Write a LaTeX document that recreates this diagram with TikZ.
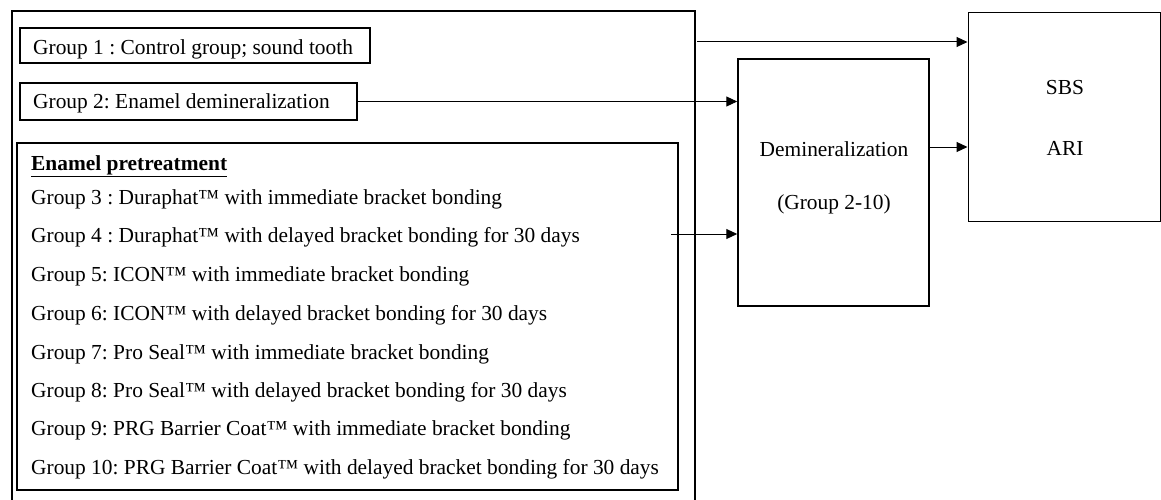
\documentclass[tikz,border=0pt]{standalone}
\usepackage{fontspec}
\setmainfont{Liberation Serif}
\usetikzlibrary{arrows.meta}
\frenchspacing
\begin{document}
\begin{tikzpicture}[x=1pt,y=-1pt,
  box/.style={draw,line width=1.5pt,inner sep=0pt},
  arr/.style={line width=1pt,-{Triangle[length=11pt,width=10pt]}},
  txt/.style={anchor=base west,inner sep=0pt,font=\fontsize{21.4}{26}\selectfont},
  ctxt/.style={anchor=base,inner sep=0pt,font=\fontsize{21.4}{26}\selectfont}]
\fill[white] (0,0) rectangle (1161,500);
\useasboundingbox (0,0) rectangle (1161,500);
% outer frame (open at the bottom)
\coordinate (obl) at (12,500);
\coordinate (otl) at (12,11);
\coordinate (otr) at (695,11);
\coordinate (obr) at (695,500);
\draw[line width=1.5pt] (obl) -- (otl) -- (otr) -- (obr);
% boxes
\node[box,minimum width=350pt,minimum height=35pt] (g1) at (195,45.5) {};
\node[box,minimum width=337pt,minimum height=37pt] (g2) at (188.5,101.5) {};
\node[box,minimum width=661pt,minimum height=347pt] (pre) at (347.5,316.5) {};
\node[box,minimum width=191pt,minimum height=247pt] (demin) at (833.5,182.5) {};
\node[box,line width=1pt,minimum width=192pt,minimum height=208pt] (sbs) at (1064,117) {};
% texts
\node[txt] (t1) at (33,55) {Group 1 : Control group; sound tooth};
\node[txt] (t2) at (33,109) {Group 2: Enamel demineralization};
\node[txt] (tp) at (31,170) {\underline{\textbf{Enamel pretreatment}}};
\node[txt] (t3) at (31,204) {Group 3 : Duraphat™ with immediate bracket bonding};
\node[txt] (t4) at (31,242) {Group 4 : Duraphat™ with delayed bracket bonding for 30 days};
\node[txt] (t5) at (31,281) {Group 5: ICON™ with immediate bracket bonding};
\node[txt] (t6) at (31,320) {Group 6: ICON™ with delayed bracket bonding for 30 days};
\node[txt] (t7) at (31,359) {Group 7: Pro Seal™ with immediate bracket bonding};
\node[txt] (t8) at (31,397) {Group 8: Pro Seal™ with delayed bracket bonding for 30 days};
\node[txt] (t9) at (31,435) {Group 9: PRG Barrier Coat™ with immediate bracket bonding};
\node[txt] (t10) at (31,474) {Group 10: PRG Barrier Coat™ with delayed bracket bonding for 30 days};
\node[ctxt] (td1) at (834,157) {Demineralization};
\node[ctxt] (td2) at (834,209) {(Group 2-10)};
\node[ctxt] (ts1) at (1065,95) {SBS};
\node[ctxt] (ts2) at (1065,155) {ARI};
% connectors
\coordinate (a1) at (697,42);
\draw[arr] (a1) -- (a1 -| sbs.west);
\draw[arr] (g2.east) -- (g2.east -| demin.west);
\coordinate (a4) at (671,234);
\draw[arr] (a4) -- (a4 -| demin.west);
\coordinate (d1) at (929,147);
\draw[arr] (d1) -- (d1 -| sbs.west);
\end{tikzpicture}
\end{document}
